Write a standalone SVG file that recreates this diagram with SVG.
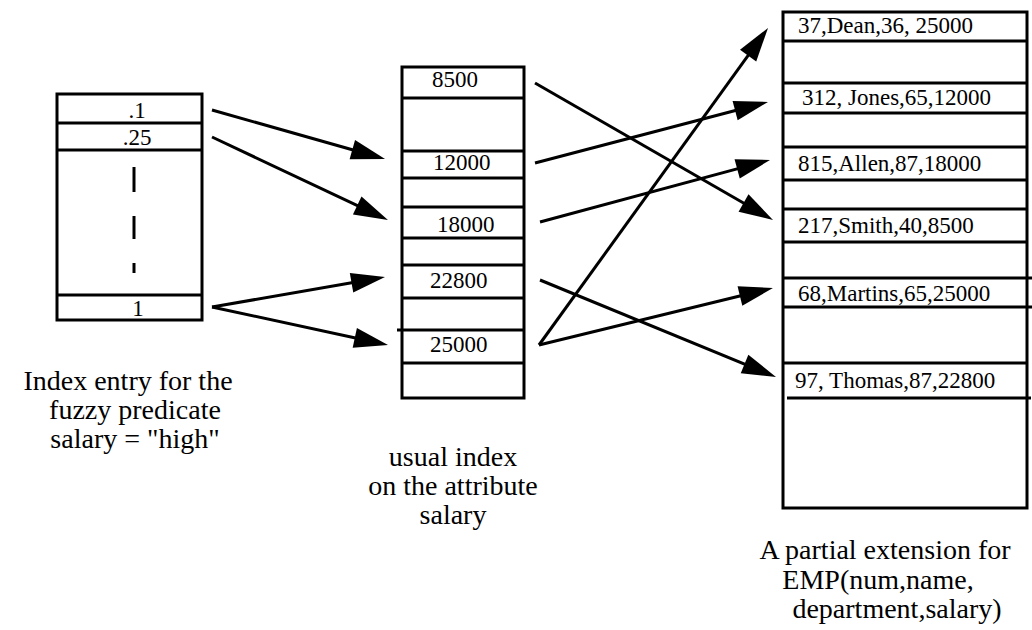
<svg xmlns="http://www.w3.org/2000/svg" width="1032" height="630" viewBox="0 0 1032 630">
<style>
.box{fill:#fff;stroke:#000;stroke-width:3}
.ln{stroke:#000;stroke-width:3;fill:none}
.t{font-family:'Times New Roman','Liberation Serif',Tinos,'Noto Serif','DejaVu Serif',FreeSerif,serif;font-size:23px;fill:#000}
.lbl{font-family:'Times New Roman','Liberation Serif',Tinos,'Noto Serif','DejaVu Serif',FreeSerif,serif;font-size:28px;fill:#000;text-anchor:middle}
.arr{stroke:#000;stroke-width:3;fill:none;marker-end:url(#ah)}
</style>
<defs>
<marker id="ah" markerUnits="userSpaceOnUse" markerWidth="40" markerHeight="24" viewBox="0 -12 36 24" refX="22" refY="0" orient="auto">
<path d="M0,-10 L34,0 L0,10 Z" fill="#000"/>
</marker>
</defs>
<rect width="1032" height="630" fill="#fff"/>

<g id="fuzzy-index">
<rect class="box" x="57" y="94" width="145" height="226"/>
<line class="ln" x1="57" y1="123" x2="202" y2="123"/>
<line class="ln" x1="57" y1="150" x2="202" y2="150"/>
<line class="ln" x1="57" y1="295" x2="202" y2="295"/>
<text class="t" x="137" y="118" text-anchor="middle">.1</text>
<text class="t" x="137" y="145" text-anchor="middle">.25</text>
<text class="t" x="138" y="316" text-anchor="middle">1</text>
<line class="ln" x1="134" y1="167" x2="134" y2="192"/>
<line class="ln" x1="134" y1="216" x2="134" y2="239"/>
<line class="ln" x1="134" y1="263" x2="134" y2="273"/>
</g>

<g id="usual-index">
<rect class="box" x="402" y="67" width="122" height="331"/>
<line class="ln" x1="402" y1="98" x2="524" y2="98"/>
<line class="ln" x1="402" y1="151" x2="524" y2="151"/>
<line class="ln" x1="402" y1="178" x2="524" y2="178"/>
<line class="ln" x1="402" y1="207" x2="524" y2="207"/>
<line class="ln" x1="402" y1="238" x2="524" y2="238"/>
<line class="ln" x1="402" y1="265" x2="524" y2="265"/>
<line class="ln" x1="402" y1="298" x2="524" y2="298"/>
<line class="ln" x1="397" y1="330" x2="524" y2="330"/>
<line class="ln" x1="402" y1="363" x2="524" y2="363"/>
<text class="t" x="432" y="87">8500</text>
<text class="t" x="433" y="170">12000</text>
<text class="t" x="437" y="232">18000</text>
<text class="t" x="430" y="288">22800</text>
<text class="t" x="430" y="352">25000</text>
</g>

<g id="emp-extension">
<rect class="box" x="783" y="12" width="244" height="496"/>
<line class="ln" x1="783" y1="41" x2="1027" y2="41"/>
<line class="ln" x1="783" y1="83" x2="1027" y2="83"/>
<line class="ln" x1="783" y1="113" x2="1027" y2="113"/>
<line class="ln" x1="783" y1="147" x2="1027" y2="147"/>
<line class="ln" x1="783" y1="180" x2="1027" y2="180"/>
<line class="ln" x1="783" y1="209" x2="1027" y2="209"/>
<line class="ln" x1="783" y1="242" x2="1027" y2="242"/>
<line class="ln" x1="783" y1="278" x2="1032" y2="278"/>
<line class="ln" x1="783" y1="307" x2="1032" y2="307"/>
<line class="ln" x1="783" y1="363" x2="1027" y2="363"/>
<line class="ln" x1="787" y1="398" x2="1031" y2="398"/>
<text class="t" x="798" y="33">37,Dean,36, 25000</text>
<text class="t" x="802" y="105">312, Jones,65,12000</text>
<text class="t" x="798" y="171">815,Allen,87,18000</text>
<text class="t" x="798" y="233">217,Smith,40,8500</text>
<text class="t" x="798" y="301">68,Martins,65,25000</text>
<text class="t" x="795" y="388">97, Thomas,87,22800</text>
</g>

<g id="labels">
<text class="lbl" x="128" y="390">Index entry for the</text>
<text class="lbl" x="135" y="419">fuzzy predicate</text>
<text class="lbl" x="135" y="448">salary = "high"</text>
<text class="lbl" x="453" y="466">usual index</text>
<text class="lbl" x="453" y="495">on the attribute</text>
<text class="lbl" x="453" y="524">salary</text>
<text class="lbl" x="885" y="559">A partial extension for</text>
<text class="lbl" x="878" y="589">EMP(num,name,</text>
<text class="lbl" x="897" y="618">department,salary)</text>
</g>

<g id="connectors">
<line class="arr" x1="212" y1="110" x2="373.5" y2="155.7"/>
<line class="arr" x1="212" y1="137" x2="377.1" y2="214.9"/>
<line class="arr" x1="212" y1="307" x2="373.2" y2="279.0"/>
<line class="arr" x1="212" y1="307" x2="376.3" y2="342.5"/>
<line class="arr" x1="535" y1="83" x2="762.6" y2="214.0"/>
<line class="arr" x1="535" y1="163" x2="756.4" y2="105.0"/>
<line class="arr" x1="540" y1="222" x2="758.4" y2="163.1"/>
<line class="arr" x1="540" y1="280" x2="764.9" y2="372.4"/>
<line class="arr" x1="539" y1="345" x2="761.3" y2="290.8"/>
<line class="arr" x1="539" y1="345" x2="761.0" y2="37.7"/>
</g>
</svg>
